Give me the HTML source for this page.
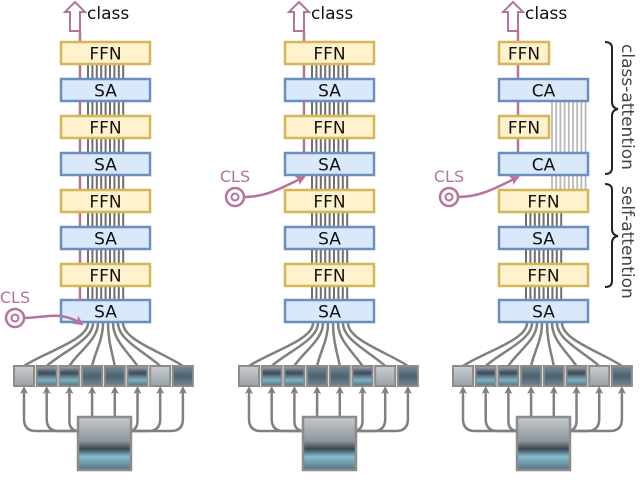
<!DOCTYPE html>
<html><head><meta charset="utf-8"><style>
html,body{margin:0;padding:0;background:#fff;}
svg{display:block;}
text{font-family:"DejaVu Sans","Liberation Sans",sans-serif;}
</style></head><body>
<svg width="640" height="498" viewBox="0 0 640 498" xmlns="http://www.w3.org/2000/svg">
<defs>
<marker id="ag" markerWidth="8" markerHeight="8" refX="4" refY="4" orient="auto" markerUnits="userSpaceOnUse"><path d="M0,0 L8,4 L0,8 L2,4 Z" fill="#808080"/></marker>
<marker id="ap" markerWidth="10" markerHeight="10" refX="8" refY="5" orient="auto" markerUnits="userSpaceOnUse"><path d="M0,0 L10,5 L0,10 L2.5,5 Z" fill="#b5739d"/></marker>
<linearGradient id="pA" x1="0" y1="0" x2="0" y2="1"><stop offset="0" stop-color="#c9cdd0"/><stop offset="1" stop-color="#9aa3a8"/></linearGradient>
<linearGradient id="pB" x1="0" y1="0" x2="0" y2="1"><stop offset="0" stop-color="#a8b0b5"/><stop offset="0.35" stop-color="#3d4a57"/><stop offset="0.7" stop-color="#7fb2c4"/><stop offset="1" stop-color="#52707e"/></linearGradient>
<linearGradient id="pC" x1="0" y1="0" x2="0" y2="1"><stop offset="0" stop-color="#7b8c96"/><stop offset="0.5" stop-color="#4e6270"/><stop offset="1" stop-color="#6e8793"/></linearGradient>
<linearGradient id="pI" x1="0" y1="0" x2="0" y2="1"><stop offset="0" stop-color="#c5c9cc"/><stop offset="0.45" stop-color="#8d979d"/><stop offset="0.6" stop-color="#3a4753"/><stop offset="0.75" stop-color="#86bdd0"/><stop offset="1" stop-color="#55707d"/></linearGradient>
<g id="bottom">
  <g fill="none" stroke="#808080" stroke-width="2.5">
    <path d="M24,366 C45,352 88,340 88,323"/>
    <path d="M46.7,366 C62,352 93,340 93,323"/>
    <path d="M69.4,366 C78,352 98,340 98,323"/>
    <path d="M92.1,366 C95,352 103,340 103,323"/>
    <path d="M114.8,366 C112,352 108,340 108,323"/>
    <path d="M137.5,366 C128,352 113,340 113,323"/>
    <path d="M160.2,366 C145,352 118,340 118,323"/>
    <path d="M182.9,366 C162,352 123,340 123,323"/>
  </g>
  <g stroke="#8c8c8c" stroke-width="2">
    <rect x="14" y="366" width="20" height="20" fill="url(#pA)"/>
    <rect x="36.7" y="366" width="20" height="20" fill="url(#pB)"/>
    <rect x="59.4" y="366" width="20" height="20" fill="url(#pB)"/>
    <rect x="82.1" y="366" width="20" height="20" fill="url(#pC)"/>
    <rect x="104.8" y="366" width="20" height="20" fill="url(#pC)"/>
    <rect x="127.5" y="366" width="20" height="20" fill="url(#pB)"/>
    <rect x="150.2" y="366" width="20" height="20" fill="url(#pA)"/>
    <rect x="172.9" y="366" width="20" height="20" fill="url(#pC)"/>
  </g>
  <g fill="none" stroke="#808080" stroke-width="2.5" marker-end="url(#ag)">
    <path d="M78,431 H36 Q24,431 24,419 V390"/>
    <path d="M78,431 H58.7 Q46.7,431 46.7,419 V390"/>
    <path d="M78,431 H79.4 Q69.4,431 69.4,421 V390"/>
    <path d="M92.1,417 V390"/>
    <path d="M114.8,417 V390"/>
    <path d="M131,431 H127.5 Q137.5,431 137.5,421 V390"/>
    <path d="M131,431 H148.2 Q160.2,431 160.2,419 V390"/>
    <path d="M131,431 H170.9 Q182.9,431 182.9,419 V390"/>
  </g>
  <rect x="78" y="417" width="53" height="53" fill="url(#pI)" stroke="#8c8c8c" stroke-width="2.5"/>
</g>
<g id="vl" stroke="#6f6f6f" stroke-width="2">
  <line x1="88" y1="0" x2="88" y2="14"/><line x1="92.4" y1="0" x2="92.4" y2="14"/><line x1="96.8" y1="0" x2="96.8" y2="14"/><line x1="101.2" y1="0" x2="101.2" y2="14"/><line x1="105.6" y1="0" x2="105.6" y2="14"/><line x1="110" y1="0" x2="110" y2="14"/><line x1="114.4" y1="0" x2="114.4" y2="14"/><line x1="118.8" y1="0" x2="118.8" y2="14"/><line x1="123.2" y1="0" x2="123.2" y2="14"/>
</g>
<g id="cls">
  <path d="M80,2 L70,12 L75,12 L75,31 L85,31 L85,12 L90,12 Z" fill="#fff" stroke="#b5739d" stroke-width="2"/>
  <path d="M80,2 L70,12 L75,12 L75,31 L85,31 L85,12 L90,12 Z" transform="translate(-5,0)" fill="none" stroke="none"/>
  <text x="92" y="19" font-size="17" fill="#111">class</text>
</g>
</defs>

<!-- ===== Column 1 ===== -->
<use href="#bottom"/>
<line x1="80" y1="31" x2="80" y2="299" stroke="#b5739d" stroke-width="2.5"/>
<use href="#vl" y="64"/><use href="#vl" y="101"/><use href="#vl" y="138"/><use href="#vl" y="175"/><use href="#vl" y="212"/><use href="#vl" y="249"/><use href="#vl" y="286"/>
<use href="#cls" x="-5"/>
<g stroke-width="2.5" font-size="17" text-anchor="middle">
<rect x="61" y="42" width="89" height="22" fill="#fff2cc" stroke="#d6b656"/><text x="105.5" y="59.5" stroke="none" fill="#111">FFN</text>
<rect x="61" y="79" width="89" height="22" fill="#dae8fc" stroke="#6c8ebf"/><text x="105.5" y="96.5" stroke="none" fill="#111">SA</text>
<rect x="61" y="116" width="89" height="22" fill="#fff2cc" stroke="#d6b656"/><text x="105.5" y="133.5" stroke="none" fill="#111">FFN</text>
<rect x="61" y="153" width="89" height="22" fill="#dae8fc" stroke="#6c8ebf"/><text x="105.5" y="170.5" stroke="none" fill="#111">SA</text>
<rect x="61" y="190" width="89" height="22" fill="#fff2cc" stroke="#d6b656"/><text x="105.5" y="207.5" stroke="none" fill="#111">FFN</text>
<rect x="61" y="227" width="89" height="22" fill="#dae8fc" stroke="#6c8ebf"/><text x="105.5" y="244.5" stroke="none" fill="#111">SA</text>
<rect x="61" y="264" width="89" height="22" fill="#fff2cc" stroke="#d6b656"/><text x="105.5" y="281.5" stroke="none" fill="#111">FFN</text>
<rect x="61" y="300" width="89" height="22" fill="#dae8fc" stroke="#6c8ebf"/><text x="105.5" y="317.5" stroke="none" fill="#111">SA</text>
</g>
<text x="15" y="303" font-size="16" fill="#b5739d" text-anchor="middle">CLS</text>
<circle cx="15" cy="318" r="9" fill="#fff" stroke="#b5739d" stroke-width="2.5"/><circle cx="15" cy="318" r="3.5" fill="none" stroke="#b5739d" stroke-width="2"/>
<path d="M24,318 C45,318 60,310 82,324" fill="none" stroke="#b5739d" stroke-width="2.5" marker-end="url(#ap)"/>

<!-- ===== Column 2 ===== -->
<g transform="translate(224,0)">
<use href="#bottom" x="1"/>
<line x1="80" y1="31" x2="80" y2="153" stroke="#b5739d" stroke-width="2.5"/>
<use href="#vl" y="64"/><use href="#vl" y="101"/><use href="#vl" y="138"/><use href="#vl" y="175"/><use href="#vl" y="212"/><use href="#vl" y="249"/><use href="#vl" y="286"/>
<use href="#cls" x="-5"/>
<g stroke-width="2.5" font-size="17" text-anchor="middle">
<rect x="61" y="42" width="89" height="22" fill="#fff2cc" stroke="#d6b656"/><text x="105.5" y="59.5" stroke="none" fill="#111">FFN</text>
<rect x="61" y="79" width="89" height="22" fill="#dae8fc" stroke="#6c8ebf"/><text x="105.5" y="96.5" stroke="none" fill="#111">SA</text>
<rect x="61" y="116" width="89" height="22" fill="#fff2cc" stroke="#d6b656"/><text x="105.5" y="133.5" stroke="none" fill="#111">FFN</text>
<rect x="61" y="153" width="89" height="22" fill="#dae8fc" stroke="#6c8ebf"/><text x="105.5" y="170.5" stroke="none" fill="#111">SA</text>
<rect x="61" y="190" width="89" height="22" fill="#fff2cc" stroke="#d6b656"/><text x="105.5" y="207.5" stroke="none" fill="#111">FFN</text>
<rect x="61" y="227" width="89" height="22" fill="#dae8fc" stroke="#6c8ebf"/><text x="105.5" y="244.5" stroke="none" fill="#111">SA</text>
<rect x="61" y="264" width="89" height="22" fill="#fff2cc" stroke="#d6b656"/><text x="105.5" y="281.5" stroke="none" fill="#111">FFN</text>
<rect x="61" y="300" width="89" height="22" fill="#dae8fc" stroke="#6c8ebf"/><text x="105.5" y="317.5" stroke="none" fill="#111">SA</text>
</g>
<text x="11" y="182" font-size="16" fill="#b5739d" text-anchor="middle">CLS</text>
<circle cx="11" cy="197" r="9" fill="#fff" stroke="#b5739d" stroke-width="2.5"/><circle cx="11" cy="197" r="3.5" fill="none" stroke="#b5739d" stroke-width="2"/>
<path d="M20,197 C42,197 58,188 80,177" fill="none" stroke="#b5739d" stroke-width="2.5" marker-end="url(#ap)"/>
</g>

<!-- ===== Column 3 ===== -->
<g transform="translate(438,0)">
<use href="#bottom" x="1"/>
<line x1="80" y1="31" x2="80" y2="153" stroke="#b5739d" stroke-width="2.5"/>
<g stroke="#b8b8b8" stroke-width="1.8">
  <line x1="114" y1="101" x2="114" y2="190"/><line x1="118.2" y1="101" x2="118.2" y2="190"/><line x1="122.4" y1="101" x2="122.4" y2="190"/><line x1="126.6" y1="101" x2="126.6" y2="190"/><line x1="130.8" y1="101" x2="130.8" y2="190"/><line x1="135" y1="101" x2="135" y2="190"/><line x1="139.2" y1="101" x2="139.2" y2="190"/><line x1="143.4" y1="101" x2="143.4" y2="190"/><line x1="147.6" y1="101" x2="147.6" y2="190"/>
</g>
<use href="#vl" y="212"/><use href="#vl" y="249"/><use href="#vl" y="286"/>
<use href="#cls" x="-5"/>
<g stroke-width="2.5" font-size="17" text-anchor="middle">
<rect x="61" y="42" width="50" height="22" fill="#fff2cc" stroke="#d6b656"/><text x="86" y="59.5" stroke="none" fill="#111">FFN</text>
<rect x="61" y="79" width="89" height="22" fill="#dae8fc" stroke="#6c8ebf"/><text x="105.5" y="96.5" stroke="none" fill="#111">CA</text>
<rect x="61" y="116" width="50" height="22" fill="#fff2cc" stroke="#d6b656"/><text x="86" y="133.5" stroke="none" fill="#111">FFN</text>
<rect x="61" y="153" width="89" height="22" fill="#dae8fc" stroke="#6c8ebf"/><text x="105.5" y="170.5" stroke="none" fill="#111">CA</text>
<rect x="61" y="190" width="89" height="22" fill="#fff2cc" stroke="#d6b656"/><text x="105.5" y="207.5" stroke="none" fill="#111">FFN</text>
<rect x="61" y="227" width="89" height="22" fill="#dae8fc" stroke="#6c8ebf"/><text x="105.5" y="244.5" stroke="none" fill="#111">SA</text>
<rect x="61" y="264" width="89" height="22" fill="#fff2cc" stroke="#d6b656"/><text x="105.5" y="281.5" stroke="none" fill="#111">FFN</text>
<rect x="61" y="300" width="89" height="22" fill="#dae8fc" stroke="#6c8ebf"/><text x="105.5" y="317.5" stroke="none" fill="#111">SA</text>
</g>
<text x="11" y="182" font-size="16" fill="#b5739d" text-anchor="middle">CLS</text>
<circle cx="11" cy="197" r="9" fill="#fff" stroke="#b5739d" stroke-width="2.5"/><circle cx="11" cy="197" r="3.5" fill="none" stroke="#b5739d" stroke-width="2"/>
<path d="M20,197 C42,197 58,188 80,177" fill="none" stroke="#b5739d" stroke-width="2.5" marker-end="url(#ap)"/>
</g>

<g fill="none" stroke="#222" stroke-width="2">
  <path d="M605,42 Q612,42 612,48 V102 Q612,108 618,109 Q612,110 612,116 V168 Q612,174 605,174"/>
  <path d="M605,184 Q612,184 612,190 V229 Q612,235 618,236 Q612,237 612,243 V281 Q612,287 605,287"/>
</g>
<text transform="translate(622,44) rotate(90)" font-size="17" fill="#444">class-attention</text>
<text transform="translate(622,186) rotate(90)" font-size="17" fill="#444">self-attention</text>
</svg>
</body></html>
